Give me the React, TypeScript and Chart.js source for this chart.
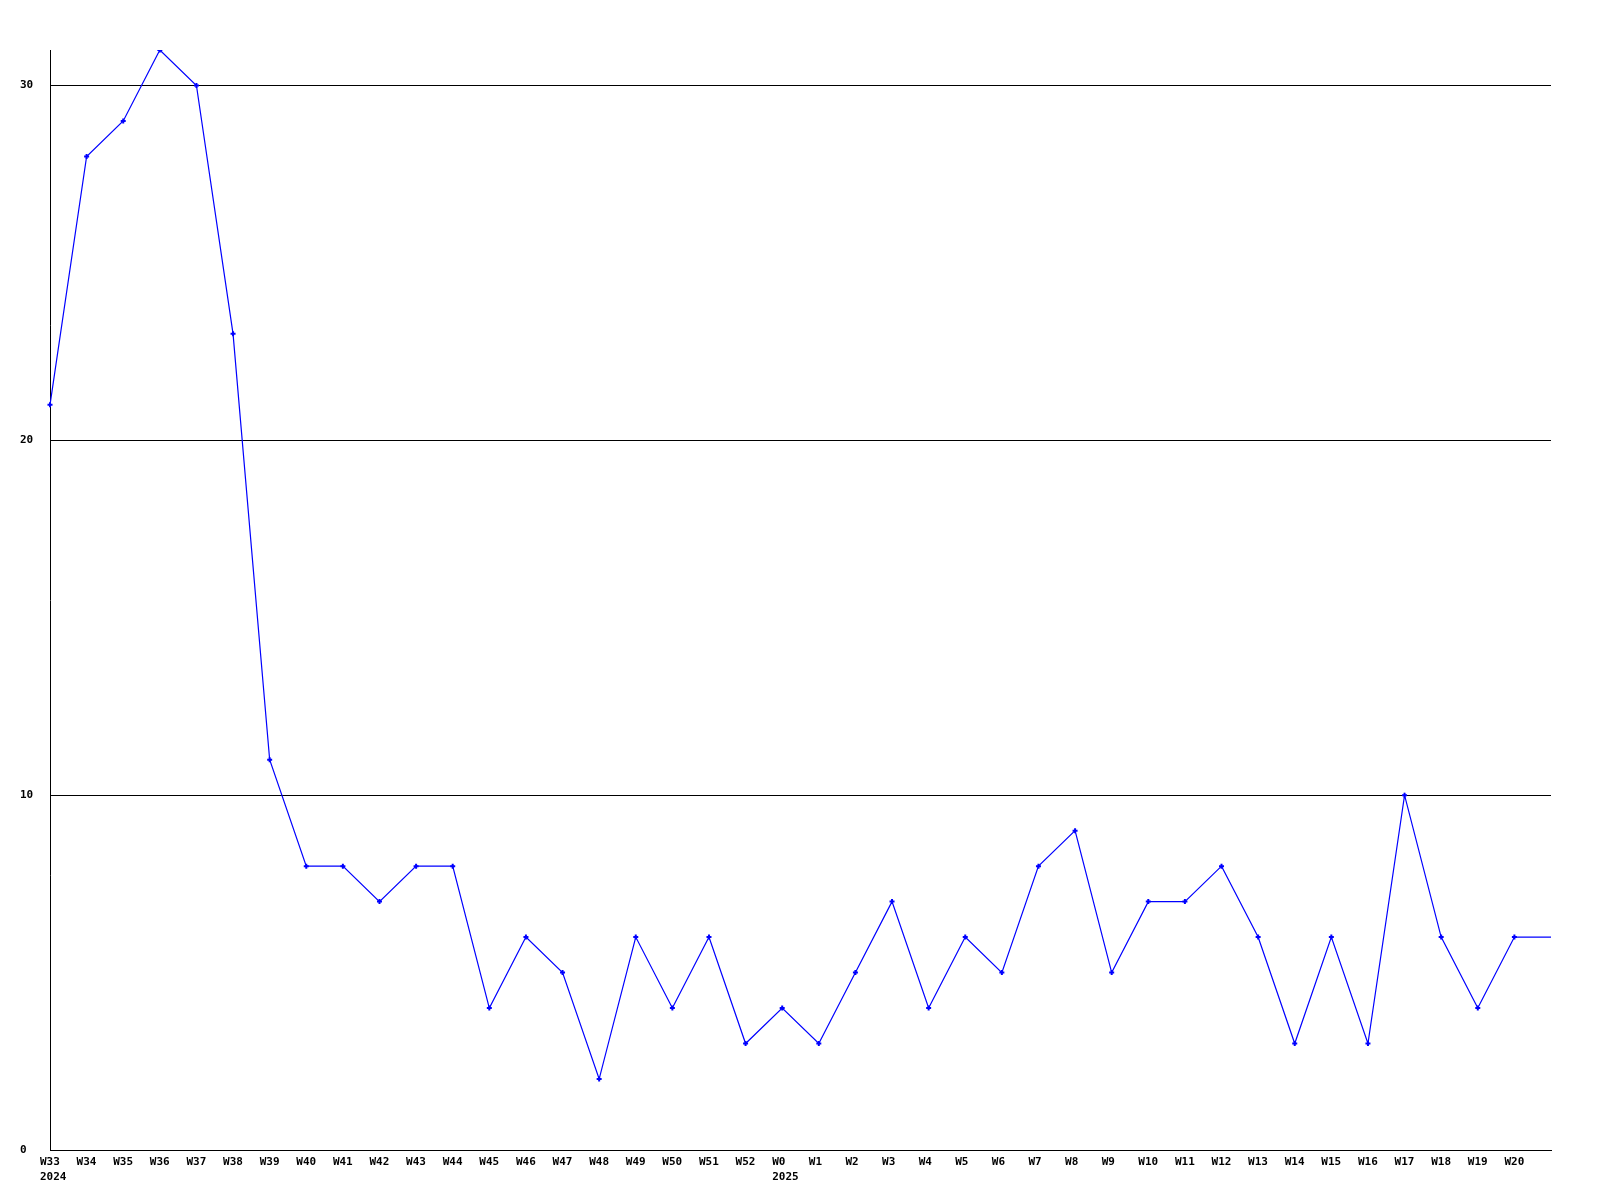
import React, { useEffect, useRef } from "react";
import { Chart, registerables } from "chart.js";

Chart.register(...registerables);

const weekLabels: (string | string[])[] = [
  ["W33", "2024"], "W34", "W35", "W36", "W37", "W38", "W39", "W40", "W41", "W42",
  "W43", "W44", "W45", "W46", "W47", "W48", "W49", "W50", "W51", "W52",
  ["W0", "2025"], "W1", "W2", "W3", "W4", "W5", "W6", "W7", "W8", "W9",
  "W10", "W11", "W12", "W13", "W14", "W15", "W16", "W17", "W18", "W19", "W20", "",
];

const counts: number[] = [
  21, 28, 29, 31, 30, 23, 11, 8, 8, 7,
  8, 8, 4, 6, 5, 2, 6, 4, 6, 3,
  4, 3, 5, 7, 4, 6, 5, 8, 9, 5,
  7, 7, 8, 6, 3, 6, 3, 10, 6, 4, 6, 6,
];

const yTicks: number[] = [0, 10, 20, 30];

export default function App() {
  const ref = useRef<HTMLCanvasElement | null>(null);

  useEffect(() => {
    if (!ref.current) return;
    const lastIdx = counts.length - 1;
    const chart = new Chart(ref.current, {
      type: "line",
      data: {
        labels: weekLabels,
        datasets: [
          {
            data: counts,
            borderColor: "#0000ff",
            backgroundColor: "#0000ff",
            borderWidth: 1.2,
            tension: 0,
            fill: false,
            pointStyle: "cross",
            pointRadius: (ctx: any) => (ctx.dataIndex === lastIdx ? 0 : 2.5),
            pointBorderWidth: 2,
            pointBorderColor: "#0000ff",
          },
        ],
      },
      options: {
        animation: false,
        responsive: false,
        maintainAspectRatio: false,
        layout: { padding: { left: 20, top: 50, right: 49, bottom: 0 } },
        plugins: { legend: { display: false }, tooltip: { enabled: false } },
        scales: {
          x: {
            type: "category",
            offset: false,
            grid: { display: false, drawTicks: false },
            border: { display: true, color: "#000000", width: 1 },
            ticks: {
              autoSkip: false,
              maxRotation: 0,
              minRotation: 0,
              align: "start",
              labelOffset: -10,
              padding: 5,
              color: "#000000",
              font: { family: "'DejaVu Sans Mono'", size: 11, weight: "bold", lineHeight: "15px" },
            },
            afterFit: (scale: any) => {
              scale.height = 50;
            },
          },
          y: {
            min: 0,
            max: 31,
            afterBuildTicks: (scale: any) => {
              scale.ticks = yTicks.map((v) => ({ value: v }));
            },
            grid: { color: "#000000", lineWidth: 1, drawTicks: false },
            border: { display: true, color: "#000000", width: 1 },
            ticks: {
              crossAlign: "far",
              padding: 0,
              color: "#000000",
              font: { family: "'DejaVu Sans Mono'", size: 11, weight: "bold" },
            },
            afterFit: (scale: any) => {
              scale.width = 30;
            },
          },
        },
      },
    });
    return () => chart.destroy();
  }, []);

  return (
    <canvas
      ref={ref}
      width={1600}
      height={1200}
      style={{ position: "fixed", left: 0, top: 0, width: 1600, height: 1200, background: "#ffffff" }}
    />
  );
}
